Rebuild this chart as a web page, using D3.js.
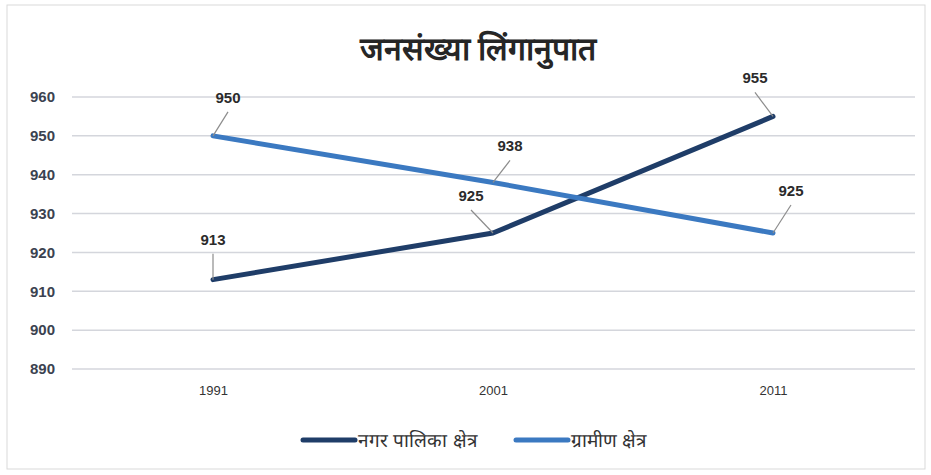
<!DOCTYPE html>
<html>
<head>
<meta charset="utf-8">
<script src="https://cdn.jsdelivr.net/npm/d3@7"></script>
<style>
body{margin:0;background:#fff;font-family:"Liberation Sans",Arial,sans-serif}
</style>
</head>
<body>
<svg id="canvas" width="931" height="475"></svg>
<script>
// data
let years=["1991","2001","2011"]
let nagar=[913,925,955]
let gramin=[950,938,925]
let seriesNames=["नगर पालिका क्षेत्र","ग्रामीण क्षेत्र"]
let yTicks=[890,900,910,920,930,940,950,960]
// label offsets relative to point (dx,dy) for leader lines
let nagarLbl=[[0,-40],[-22,-37],[-18,-38]]
let graminLbl=[[15,-38],[17,-36],[18,-42]]

let canvas=d3.select("#canvas")
const W=931,H=475

canvas.append("rect").attr("x",7).attr("y",5).attr("width",918).attr("height",464)
      .attr("fill","#fff").attr("stroke","#d9d9d9").attr("stroke-width",1)

canvas.append("text").attr("x",478).attr("y",60).attr("text-anchor","middle")
      .attr("font-size",32).attr("font-weight","bold").attr("fill","#262626")
      .text("जनसंख्या लिंगानुपात")

const x=d3.scalePoint().domain(years).range([73,913]).padding(0.5)
const y=d3.scaleLinear().domain([890,960]).range([369,97])

// gridlines
canvas.append("g").selectAll("line").data(yTicks).enter().append("line")
      .attr("x1",72).attr("x2",915)
      .attr("y1",d=>y(d)).attr("y2",d=>y(d))
      .attr("stroke","#d4d6dc").attr("stroke-width",1.5)

const yAxis=d3.axisLeft(y).tickValues(yTicks).tickSize(0).tickPadding(0)
canvas.append("g").attr("transform","translate(55,0)").call(yAxis)
      .call(g=>g.select(".domain").remove())
      .selectAll("text").attr("font-size",15).attr("font-weight","bold").attr("fill","#3b4250")
      .attr("font-family","Liberation Sans, Arial, sans-serif")

const xAxis=d3.axisBottom(x).tickSize(0).tickPadding(0)
canvas.append("g").attr("transform","translate(0,386)").call(xAxis)
      .call(g=>g.select(".domain").remove())
      .selectAll("text").attr("font-size",13).attr("fill","#333")
      .attr("font-family","Liberation Sans, Arial, sans-serif")

const line=d3.line().x((d,i)=>x(years[i])).y(d=>y(d))
const colors=["#1f3d68","#3b79c1"]
let series=[nagar,gramin]
let lbls=[nagarLbl,graminLbl]

series.forEach((s,k)=>{
  canvas.append("path").datum(s).attr("d",line).attr("fill","none")
        .attr("stroke",colors[k]).attr("stroke-width",5)
        .attr("stroke-linejoin","round").attr("stroke-linecap","round")
})

series.forEach((s,k)=>{
  s.forEach((v,i)=>{
    let px=x(years[i]),py=y(v)
    let [dx,dy]=lbls[k][i]
    canvas.append("line").attr("x1",px).attr("y1",py)
          .attr("x2",px+dx).attr("y2",py+dy+14)
          .attr("stroke","#8c8c8c").attr("stroke-width",1.2)
    canvas.append("text").attr("x",px+dx).attr("y",py+dy+5)
          .attr("text-anchor","middle").attr("font-size",15).attr("font-weight","bold")
          .attr("fill","#2b2b2b").text(v)
  })
})

// legend
let legend=canvas.append("g")
let lx=[303,516]
seriesNames.forEach((n,k)=>{
  legend.append("line").attr("x1",lx[k]).attr("x2",lx[k]+52).attr("y1",440).attr("y2",440)
        .attr("stroke",colors[k]).attr("stroke-width",5).attr("stroke-linecap","round")
  legend.append("text").attr("x",lx[k]+55).attr("y",447).attr("font-size",19)
        .attr("fill","#333").text(n)
})
</script>
</body>
</html>
